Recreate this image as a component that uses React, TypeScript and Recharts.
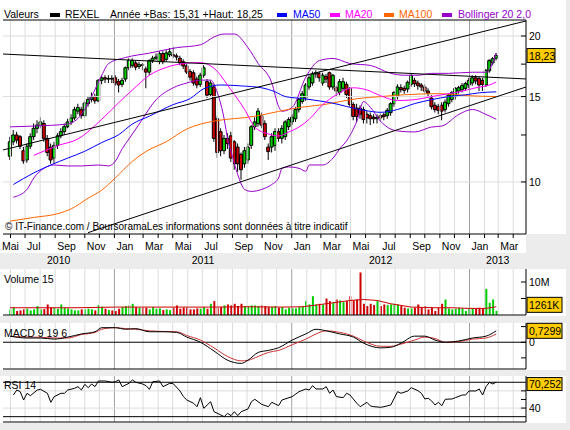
import React from 'react'
import { ComposedChart, Bar, Line, XAxis, YAxis, ReferenceLine, Cell } from 'recharts'

const FONT = '"Liberation Sans", Arial, Helvetica, sans-serif'
const GREEN = '#00cc00'
const RED = '#cc0000'
const GRID = '#dcdcdc'
const YEAR_GRID = '#a0a0a0'
const PURPLE = '#9900cc'

// weekly candles, the first week starts on Monday 31 May 2010
const FIRST_WEEK = Date.UTC(2010, 4, 31)
const WEEK_MS = 7 * 24 * 3600 * 1000
const X_DOMAIN: [number, number] = [-2.06, 151.76]

const opens = [
  11.3, 12.1, 12.5, 12.4, 11.6, 11.1, 11.85, 12.4, 12.9, 13.1,
  13.2, 12.3, 11.8, 11.2, 11.9, 12.45, 12.7, 13.0, 13.3, 13.55,
  14.0, 14.1, 13.7, 14.5, 14.8, 15.0, 14.7, 16.2, 16.4, 16.3,
  16.35, 16.4, 16.1, 15.9, 16.3, 17.2, 17.4, 17.6, 17.3, 17.45,
  17.1, 16.85, 17.8, 18.0, 17.7, 18.4, 17.9, 18.3, 18.3, 18.2,
  18.0, 17.7, 17.35, 16.9, 16.8, 16.3, 15.9, 16.6, 16.1, 15.15,
  15.7, 13.5, 12.7, 11.6, 12.3, 12.45, 12.1, 11.8, 11.4, 10.9,
  11.1, 11.9, 13.0, 13.2, 13.7, 13.2, 11.8, 11.8, 11.9, 12.7,
  12.3, 12.4, 13.0, 13.3, 13.5, 14.1, 14.65, 14.9, 15.7, 16.0,
  16.7, 16.75, 16.0, 16.5, 16.8, 15.7, 15.65, 15.3, 15.6, 15.9,
  15.6, 14.45, 14.2, 14.2, 14.1, 13.8, 13.7, 13.6, 13.5, 13.7,
  13.75, 13.7, 13.9, 14.5, 15.0, 15.65, 15.6, 15.55, 15.9, 16.2,
  16.0, 15.85, 15.7, 15.4, 14.9, 14.4, 14.3, 14.4, 14.1, 14.5,
  14.8, 15.0, 15.4, 15.5, 15.6, 15.85, 16.0, 16.4, 16.35, 16.2,
  15.85, 16.95, 17.6, 18.0,
]
const highs = [
  12.4, 12.8, 12.7, 12.5, 11.8, 12.0, 12.6, 13.2, 13.4, 13.6,
  13.4, 12.5, 12.0, 12.1, 12.6, 12.9, 13.2, 13.5, 13.8, 14.3,
  14.5, 14.3, 14.7, 15.0, 15.3, 15.2, 16.3, 16.6, 16.6, 16.6,
  16.6, 16.6, 16.3, 16.4, 17.3, 18.0, 18.0, 17.8, 17.7, 17.6,
  17.3, 17.9, 18.2, 18.4, 18.6, 18.6, 18.7, 18.9, 19.0, 18.4,
  18.2, 17.9, 17.5, 17.1, 17.0, 16.5, 16.8, 17.4, 16.3, 16.2,
  15.9, 13.7, 12.9, 12.5, 12.6, 12.7, 12.2, 12.0, 11.5, 11.8,
  12.0, 13.1, 13.6, 14.2, 13.9, 13.4, 12.0, 12.6, 12.9, 12.9,
  13.1, 13.4, 13.6, 13.8, 14.3, 14.9, 15.4, 16.0, 16.6, 16.9,
  17.0, 16.9, 16.8, 16.7, 16.9, 16.7, 15.8, 16.3, 16.4, 16.1,
  15.7, 14.6, 14.5, 14.4, 14.3, 14.0, 13.9, 13.8, 13.8, 13.9,
  13.9, 14.2, 14.6, 15.4, 15.9, 15.9, 15.8, 16.2, 16.7, 16.4,
  16.2, 16.0, 15.9, 15.6, 15.1, 14.6, 14.5, 14.6, 14.8, 15.2,
  15.4, 15.7, 15.8, 16.0, 16.1, 16.4, 16.6, 16.6, 16.5, 16.4,
  17.1, 17.9, 18.1, 18.45,
]
const lows = [
  11.1, 11.9, 12.0, 11.7, 10.9, 10.95, 11.7, 12.2, 12.6, 12.9,
  12.1, 11.3, 10.9, 10.9, 11.7, 12.3, 12.5, 12.9, 13.1, 13.4,
  13.8, 13.5, 13.6, 14.3, 14.6, 14.5, 14.6, 15.9, 16.0, 16.0,
  16.0, 15.8, 15.3, 15.7, 16.1, 17.0, 17.2, 17.0, 17.1, 17.0,
  15.6, 16.6, 17.6, 17.8, 17.5, 17.5, 17.7, 18.1, 18.0, 17.8,
  17.4, 17.1, 16.7, 16.2, 15.8, 15.6, 15.7, 16.4, 14.9, 15.0,
  12.1, 11.2, 11.3, 11.4, 11.7, 11.0, 10.6, 10.5, 10.1, 10.7,
  10.9, 11.7, 12.8, 13.0, 12.9, 12.2, 11.1, 11.5, 11.6, 12.1,
  12.0, 12.2, 12.8, 13.1, 13.3, 13.9, 14.5, 14.7, 15.5, 15.8,
  16.4, 16.1, 15.8, 16.0, 15.5, 15.5, 15.0, 15.1, 15.4, 14.9,
  14.3, 13.4, 13.3, 13.5, 13.2, 13.2, 13.1, 13.2, 13.2, 13.3,
  13.4, 13.5, 13.7, 14.3, 14.8, 15.3, 15.2, 15.3, 15.7, 15.7,
  15.5, 15.4, 15.2, 15.0, 14.1, 13.9, 13.8, 13.4, 13.9, 14.3,
  14.6, 14.8, 15.2, 15.3, 15.4, 15.6, 15.8, 15.9, 15.4, 15.4,
  15.7, 16.8, 17.4, 17.8,
]
const closes = [
  12.1, 12.5, 12.2, 11.85, 11.05, 11.85, 12.4, 12.9, 13.1, 13.3,
  12.3, 11.5, 11.1, 11.9, 12.45, 12.7, 13.0, 13.3, 13.55, 14.1,
  14.25, 13.7, 14.55, 14.8, 15.0, 14.7, 16.2, 16.4, 16.3, 16.35,
  16.3, 16.0, 15.85, 16.2, 17.2, 17.8, 17.8, 17.25, 17.45, 17.4,
  16.85, 17.8, 18.0, 18.1, 18.4, 17.7, 18.45, 18.55, 18.2, 18.1,
  17.6, 17.35, 16.85, 16.45, 16.0, 15.85, 16.6, 17.2, 15.1, 16.0,
  12.3, 11.5, 11.6, 12.3, 12.0, 11.2, 10.9, 10.9, 10.6, 11.6,
  11.8, 13.0, 13.3, 14.0, 13.1, 12.4, 11.55, 12.4, 12.7, 12.3,
  12.9, 13.3, 13.45, 13.6, 14.1, 14.8, 15.2, 15.85, 16.4, 16.7,
  16.8, 16.4, 16.6, 16.3, 15.7, 16.6, 15.4, 16.1, 16.1, 15.15,
  14.45, 13.65, 13.65, 13.8, 13.45, 13.55, 13.5, 13.5, 13.6, 13.55,
  13.65, 14.05, 14.5, 15.3, 15.7, 15.5, 15.45, 16.05, 16.6, 15.95,
  15.8, 15.7, 15.4, 15.25, 14.3, 14.1, 14.05, 14.0, 14.6, 15.1,
  15.3, 15.6, 15.65, 15.8, 15.95, 16.2, 16.4, 16.15, 15.85, 15.9,
  17.0, 17.8, 17.95, 18.23,
]
// millions of shares
const volumes = [
  1.7, 2.2, 1.2, 1.4, 1.7, 1.9, 1.4, 1.7, 2.7, 1.7,
  1.8, 3.2, 2.2, 2.2, 1.9, 3.2, 2.2, 2.0, 1.7, 1.4,
  1.4, 1.7, 1.7, 1.9, 1.7, 1.4, 3.0, 2.5, 1.9, 1.5,
  1.4, 1.2, 1.9, 2.4, 2.7, 2.9, 3.4, 2.4, 2.2, 2.2,
  2.2, 1.7, 2.4, 1.9, 2.0, 1.5, 1.7, 1.5, 2.2, 2.9,
  1.9, 2.2, 2.2, 1.7, 1.7, 2.0, 1.9, 2.4, 1.9, 3.4,
  4.2, 2.2, 2.4, 2.9, 3.2, 2.9, 3.4, 2.7, 3.4, 2.7,
  2.5, 2.9, 2.9, 2.7, 2.9, 2.7, 2.4, 2.4, 2.7, 2.2,
  2.4, 1.7, 2.2, 2.0, 2.0, 2.4, 2.7, 4.2, 3.2, 5.7,
  3.2, 3.4, 3.2, 5.0, 4.2, 3.7, 4.7, 4.4, 3.9, 4.2,
  5.7, 4.4, 4.7, 12.9, 3.4, 2.7, 3.4, 3.0, 4.2, 2.7,
  3.2, 3.0, 3.2, 3.4, 3.2, 2.7, 2.2, 2.0, 2.0, 2.2,
  3.2, 2.2, 2.7, 1.7, 2.2, 1.2, 2.2, 3.4, 4.7, 2.0,
  1.7, 1.9, 2.2, 2.0, 1.2, 1.9, 2.0, 1.9, 2.2, 1.9,
  7.9, 3.7, 4.7, 1.26,
]

// indicator readings (week index -> value)
const ma20Weeks = [7, 14, 20, 27, 32, 36, 41, 46, 51, 56, 60, 65, 69, 72, 76, 79, 82, 85, 88, 92, 96, 101, 105, 109, 114, 119, 124, 129, 132, 137, 141, 143]
const ma20 = [11.35, 11.88, 12.27, 13.47, 14.58, 15.48, 16.6, 17.23, 17.55, 17.63, 17.16, 15.48, 14.11, 12.98, 12.56, 12.44, 12.68, 12.98, 13.47, 14.44, 15.13, 15.64, 15.48, 15.06, 14.72, 14.78, 15.0, 15.21, 15.34, 15.64, 15.85, 16.07]
const ma50Weeks = [1, 7, 12, 17, 22, 27, 32, 36, 41, 48, 53, 57, 62, 68, 74, 78, 81, 86, 94, 104, 109, 114, 119, 124, 129, 134, 138, 143]
const ma50 = [9.88, 10.44, 10.84, 11.2, 11.57, 12.06, 12.52, 13.17, 13.67, 14.44, 14.86, 15.57, 15.85, 15.78, 15.64, 15.34, 15.0, 14.86, 14.58, 14.06, 13.92, 14.11, 14.51, 14.78, 15.0, 15.13, 15.27, 15.34]
const ma100Weeks = [0, 7, 14, 18, 23, 27, 31, 36, 40, 46, 52, 56, 60, 72, 79, 85, 92, 97, 102, 109, 116, 126, 135, 143]
const ma100 = [8.3, 8.45, 8.6, 8.8, 9.26, 9.62, 10.2, 11.03, 11.56, 12.11, 12.86, 13.16, 13.35, 13.66, 13.98, 14.24, 14.43, 14.64, 14.85, 15.0, 15.13, 15.21, 15.06, 15.0]
const bollUpperWeeks = [0, 7, 17, 21, 24, 27, 29, 34, 41, 49, 56, 60, 63, 66, 70, 73, 77, 79, 80, 83, 87, 91, 95, 100, 106, 112, 116, 120, 124, 129, 136, 140, 143]
const bollUpper = [12.99, 13.04, 13.17, 13.78, 15.0, 16.6, 17.55, 18.06, 18.44, 18.92, 19.18, 19.91, 20.19, 20.19, 18.92, 17.55, 16.0, 14.31, 13.99, 14.25, 16.45, 17.8, 17.98, 17.55, 17.39, 16.75, 16.6, 16.6, 16.75, 16.75, 16.84, 16.84, 18.44]
const bollLowerWeeks = [1, 5, 7, 10, 13, 17, 21, 26, 29, 31, 33, 35, 38, 43, 48, 52, 56, 59, 61, 63, 64, 65, 67, 69, 71, 74, 77, 79, 80, 82, 85, 87, 88, 92, 95, 97, 99, 102, 104, 106, 109, 112, 114, 119, 124, 127, 132, 136, 140, 143]
const bollLower = [9.3, 9.65, 10.19, 10.67, 10.84, 10.79, 10.79, 10.84, 10.79, 11.04, 11.71, 12.27, 13.17, 14.78, 15.64, 16.0, 16.22, 16.22, 15.27, 13.47, 12.27, 11.57, 10.35, 9.65, 9.56, 9.65, 9.88, 10.19, 10.67, 10.74, 10.67, 10.52, 10.84, 10.84, 11.2, 11.71, 12.16, 13.34, 14.65, 14.25, 13.34, 12.85, 12.74, 12.68, 12.98, 13.04, 13.78, 14.11, 13.78, 13.47]
const volMaWeeks = [0, 20, 31, 45, 60, 70, 80, 86, 90, 95, 100, 104, 108, 112, 118, 125, 130, 135, 140, 143]
const volMa = [2.2, 2.2, 2.4, 2.4, 2.4, 2.5, 2.4, 2.5, 3.0, 3.7, 4.4, 4.7, 4.4, 3.4, 2.4, 2.2, 2.2, 2.0, 2.0, 2.5]
const macdWeeks = [0, 5, 9, 13, 17, 21, 25, 27, 31, 34, 37, 41, 45, 49, 52, 56, 60, 64, 68, 70, 73, 76, 79, 83, 87, 90, 93, 97, 101, 104, 109, 112, 115, 119, 122, 125, 128, 132, 136, 140, 143]
const macd = [0.39, 0.27, 0.27, 0.2, 0.33, 0.53, 0.67, 0.93, 0.93, 0.83, 0.87, 0.67, 0.67, 0.63, 0.33, 0, -0.56, -1.15, -1.35, -1.15, -0.65, -0.52, -0.35, 0.14, 0.53, 0.83, 0.73, 0.53, 0.33, -0.06, -0.36, -0.32, -0.06, 0.39, 0.39, 0.14, 0, 0.08, 0.27, 0.39, 0.73]
const macdSignal = [0.37, 0.33, 0.32, 0.27, 0.27, 0.49, 0.63, 0.83, 0.93, 0.87, 0.83, 0.73, 0.69, 0.67, 0.43, 0.14, -0.36, -0.91, -1.19, -1.15, -0.91, -0.65, -0.52, -0.16, 0.2, 0.53, 0.73, 0.63, 0.39, 0.08, -0.26, -0.26, -0.12, 0.14, 0.33, 0.24, 0, 0.04, 0.2, 0.27, 0.53]
const rsiWeeks = [1, 2, 3, 4, 5, 6, 8, 9, 11, 12, 13, 15, 16, 17, 19, 20, 21, 22, 23, 24, 25, 26, 28, 30, 31, 32, 33, 35, 36, 37, 39, 40, 41, 42, 44, 45, 47, 48, 50, 51, 52, 54, 55, 56, 57, 59, 60, 62, 63, 64, 65, 66, 67, 68, 70, 71, 72, 74, 76, 77, 79, 80, 83, 85, 87, 88, 89, 90, 92, 93, 94, 95, 96, 98, 99, 100, 102, 103, 105, 106, 107, 109, 110, 112, 113, 114, 115, 117, 118, 120, 121, 122, 123, 124, 125, 126, 127, 128, 130, 131, 133, 134, 135, 137, 138, 139, 140, 141, 142, 143]
const rsi = [55.2, 61.0, 59.1, 49.4, 57.2, 54.4, 61.0, 61.8, 57.2, 46.7, 53.3, 57.2, 57.2, 61.0, 63.0, 64.9, 61.0, 67.6, 63.7, 68.0, 64.9, 71.5, 71.5, 70.0, 70.7, 72.7, 64.9, 68.8, 72.7, 70.0, 68.0, 66.1, 61.8, 70.7, 71.5, 64.9, 68.8, 68.4, 59.9, 53.3, 49.4, 45.6, 41.6, 52.1, 39.7, 47.4, 35.8, 32.0, 30.0, 33.9, 31.2, 35.8, 31.2, 35.8, 39.0, 47.4, 50.2, 44.4, 41.6, 46.7, 42.8, 49.4, 53.3, 59.1, 62.2, 61.0, 66.1, 62.2, 62.2, 64.9, 57.2, 61.0, 53.3, 52.1, 57.2, 55.2, 45.6, 41.6, 46.7, 42.4, 41.6, 40.9, 41.6, 43.6, 51.4, 59.1, 57.2, 59.9, 63.7, 60.2, 57.2, 50.6, 51.4, 48.3, 43.6, 46.7, 42.8, 50.2, 50.6, 52.1, 55.2, 55.2, 59.9, 59.9, 62.2, 55.2, 64.9, 70.0, 68.0, 70.25]

// trend lines drawn on the price panel: [week, price] -> [week, price]
const trendLines = [
  [[-2.06, 18.36], [151.76, 16.31]],
  [[-2.06, 11.64], [151.76, 21.48]],
  [[22.94, 7.86], [151.76, 15.7]],
]

const monthNames = ['Jan', '', 'Mar', '', 'Mai', '', 'Jul', '', 'Sep', '', 'Nov', '']
const years = [2010, 2011, 2012, 2013]

const at = (weeks: number[], values: number[], i: number) => {
  const k = weeks.indexOf(i)
  return k < 0 ? undefined : values[k]
}

const rows = closes.map((close, i) => ({
  week: i,
  wick: [lows[i], highs[i]],
  body: [Math.min(opens[i], close), Math.max(opens[i], close)],
  up: close >= opens[i],
  volume: volumes[i],
  ma20: at(ma20Weeks, ma20, i),
  ma50: at(ma50Weeks, ma50, i),
  ma100: at(ma100Weeks, ma100, i),
  bollUp: at(bollUpperWeeks, bollUpper, i),
  bollLow: at(bollLowerWeeks, bollLower, i),
  volMa: at(volMaWeeks, volMa, i),
  macd: at(macdWeeks, macd, i),
  signal: at(macdWeeks, macdSignal, i),
  rsi: at(rsiWeeks, rsi, i),
}))

const weekOf = (y: number, m: number) => (Date.UTC(y, m, 1) - FIRST_WEEK) / WEEK_MS

const months = years
  .flatMap((y) => monthNames.map((name, m) => ({ week: weekOf(y, m), name, jan: m === 0 })))
  .filter((mo) => mo.week > X_DOMAIN[0] - 4.5 && mo.week < X_DOMAIN[1])
const monthTicks = months.map((mo) => Math.max(mo.week, X_DOMAIN[0]))
const monthByTick = new Map(months.map((mo, k) => [monthTicks[k], mo]))

const yearTicks = years.map((y) => {
  const lo = Math.max(weekOf(y, 0), X_DOMAIN[0])
  const hi = Math.min(weekOf(y + 1, 0), X_DOMAIN[1])
  return (lo + hi) / 2
})
const yearByTick = new Map(yearTicks.map((t, k) => [t, years[k]]))

const gridLines = () =>
  months
    .filter((mo) => mo.week >= X_DOMAIN[0])
    .map((mo) => (
      <ReferenceLine key={mo.week} x={mo.week} stroke={mo.jan ? YEAR_GRID : GRID} strokeWidth={1} />
    ))

function MonthTick(props: any) {
  const { x, y, payload } = props
  const mo = monthByTick.get(payload.value)
  if (!mo) return null
  const clipped = mo.week < X_DOMAIN[0]
  return (
    <g>
      {!clipped && <line x1={x} x2={x} y1={y} y2={y + 4} stroke="#000" />}
      {mo.name && (
        <text x={clipped ? 2 : x + 2} y={y + 16} fontSize={10.5} fontFamily={FONT} fill="#000">
          {mo.name}
        </text>
      )}
    </g>
  )
}

function YearTick(props: any) {
  const { x, y, payload } = props
  return (
    <text x={x} y={y + 16} textAnchor="middle" fontSize={10.5} fontFamily={FONT} fill="#000">
      {yearByTick.get(payload.value)}
    </text>
  )
}

function ValueTick(props: any) {
  const { x, y, payload, shown = [], format = String, boxValue, boxText, boxWidth = 35, boxShift = 0, boxHeight = 15 } = props
  const v = payload.value
  if (v === boxValue) {
    const cy = y + boxShift
    return (
      <g>
        <rect x={x + 1} y={cy - boxHeight / 2} width={boxWidth} height={boxHeight} fill="#ffcc00" stroke="#000" />
        <text x={x + 3} y={cy + 4} fontSize={10.5} fontFamily={FONT} fill="#000">
          {boxText}
        </text>
      </g>
    )
  }
  return (
    <g>
      <line x1={x - 5} x2={x} y1={y} y2={y} stroke="#000" />
      {shown.includes(v) && (
        <text x={x + 3} y={y + 4} fontSize={10.5} fontFamily={FONT} fill="#000">
          {format(v)}
        </text>
      )}
    </g>
  )
}

const hiddenX = (id?: string) => (
  <XAxis xAxisId={id ?? 0} dataKey="week" type="number" domain={X_DOMAIN} allowDataOverflow height={0} hide />
)

function PriceChart() {
  return (
    <ComposedChart width={566} height={265} data={rows} margin={{ top: 20, right: 0, bottom: 0, left: 3 }}>
      <XAxis
        dataKey="week"
        type="number"
        domain={X_DOMAIN}
        allowDataOverflow
        ticks={monthTicks}
        interval={0}
        tickLine={false}
        tickSize={0}
        tickMargin={0}
        height={14}
        axisLine={{ stroke: '#000' }}
        tick={<MonthTick />}
      />
      {hiddenX('body')}
      <XAxis
        xAxisId="year"
        dataKey="week"
        type="number"
        domain={X_DOMAIN}
        allowDataOverflow
        ticks={yearTicks}
        interval={0}
        axisLine={false}
        tickLine={false}
        tickSize={0}
        tickMargin={0}
        height={17}
        tick={<YearTick />}
      />
      <YAxis
        orientation="right"
        width={40}
        scale="log"
        domain={[7.81, 21.58]}
        allowDataOverflow
        ticks={[10, 12.5, 15, 17.5, 20, 18.23]}
        interval={0}
        tickLine={false}
        tickSize={0}
        tickMargin={0}
        axisLine={{ stroke: '#000' }}
        tick={<ValueTick shown={[10, 15, 20]} boxValue={18.23} boxText="18,23" boxWidth={28} boxHeight={14} />}
      />
      {gridLines()}
      {[10, 15, 20].map((v) => (
        <ReferenceLine key={v} y={v} stroke={GRID} />
      ))}
      <ReferenceLine y={21.58} stroke="#000" />
      <Line dataKey="bollUp" type="monotone" stroke={PURPLE} dot={false} connectNulls isAnimationActive={false} />
      <Line dataKey="bollLow" type="monotone" stroke={PURPLE} dot={false} connectNulls isAnimationActive={false} />
      <Line dataKey="ma100" type="monotone" stroke="#ff6600" dot={false} connectNulls isAnimationActive={false} />
      <Line dataKey="ma50" type="monotone" stroke="#0000ff" dot={false} connectNulls isAnimationActive={false} />
      <Line dataKey="ma20" type="monotone" stroke="#ff00ff" dot={false} connectNulls isAnimationActive={false} />
      <Bar dataKey="wick" barSize={1} fill="#000" isAnimationActive={false} />
      <Bar xAxisId="body" dataKey="body" barSize={3} stroke="#000" strokeWidth={1} isAnimationActive={false}>
        {rows.map((r) => (
          <Cell key={r.week} fill={r.up ? GREEN : RED} />
        ))}
      </Bar>
      {trendLines.map(([a, b], k) => (
        <ReferenceLine
          key={k}
          segment={[
            { x: a[0], y: a[1] },
            { x: b[0], y: b[1] },
          ]}
          stroke="#000"
          strokeWidth={1}
        />
      ))}
    </ComposedChart>
  )
}

function VolumeChart() {
  return (
    <ComposedChart width={566} height={52} data={rows} margin={{ top: 3, right: 0, bottom: 3, left: 3 }}>
      {hiddenX()}
      <YAxis
        orientation="right"
        width={40}
        domain={[0, 13.94]}
        allowDataOverflow
        ticks={[5, 10, 1.26]}
        interval={0}
        tickLine={false}
        tickSize={0}
        tickMargin={0}
        axisLine={{ stroke: '#000' }}
        tick={<ValueTick shown={[10]} format={(v: number) => `${v}M`} boxValue={1.26} boxText="1261K" boxShift={-6} />}
      />
      {gridLines()}
      <Bar dataKey="volume" barSize={2} isAnimationActive={false}>
        {rows.map((r) => (
          <Cell key={r.week} fill={r.up ? GREEN : RED} />
        ))}
      </Bar>
      <Line dataKey="volMa" type="linear" stroke={RED} dot={false} connectNulls isAnimationActive={false} />
      <ReferenceLine y={0} stroke="#000" />
    </ComposedChart>
  )
}

function MacdChart() {
  return (
    <ComposedChart width={566} height={52} data={rows} margin={{ top: 3, right: 0, bottom: 3, left: 3 }}>
      {hiddenX()}
      <YAxis
        orientation="right"
        width={40}
        domain={[-1.71, 1.23]}
        allowDataOverflow
        ticks={[-1, 0, 1, 0.7299]}
        interval={0}
        tickLine={false}
        tickSize={0}
        tickMargin={0}
        axisLine={{ stroke: '#000' }}
        tick={<ValueTick shown={[0]} boxValue={0.7299} boxText="0,7299" />}
      />
      {gridLines()}
      <ReferenceLine y={0} stroke="#000" />
      <ReferenceLine y={-1.71} stroke="#000" />
      <Line dataKey="signal" type="monotone" stroke="#cc3333" dot={false} connectNulls isAnimationActive={false} />
      <Line dataKey="macd" type="monotone" stroke="#000" dot={false} connectNulls isAnimationActive={false} />
    </ComposedChart>
  )
}

function RsiChart() {
  return (
    <ComposedChart width={566} height={52} data={rows} margin={{ top: 3, right: 0, bottom: 3, left: 3 }}>
      {hiddenX()}
      <YAxis
        orientation="right"
        width={40}
        domain={[23.8, 77.3]}
        allowDataOverflow
        ticks={[40, 50, 60, 70.25]}
        interval={0}
        tickLine={false}
        tickSize={0}
        tickMargin={0}
        axisLine={{ stroke: '#000' }}
        tick={<ValueTick shown={[40]} boxValue={70.25} boxText="70,252" boxShift={2} boxHeight={13} />}
      />
      {gridLines()}
      <ReferenceLine y={40} stroke={GRID} />
      <ReferenceLine y={60} stroke={GRID} />
      <ReferenceLine y={70} stroke="#000" />
      <ReferenceLine y={30} stroke="#000" />
      <ReferenceLine y={23.8} stroke="#000" />
      <Line dataKey="rsi" type="linear" stroke="#000" dot={false} connectNulls isAnimationActive={false} />
    </ComposedChart>
  )
}

const text = (left: number, top: number, label: string, color = '#000', size = 10.5) => (
  <span style={{ position: 'absolute', left, top, color, fontSize: size, lineHeight: '12px', whiteSpace: 'nowrap' }}>{label}</span>
)
const swatch = (left: number, color: string) => (
  <span style={{ position: 'absolute', left, top: 13, width: 10, height: 4, background: color }} />
)

export default function App() {
  return (
    <div style={{ position: 'absolute', left: 0, top: 0, width: 570, height: 430, background: '#ececec', fontFamily: FONT, overflow: 'hidden' }}>
      <div style={{ position: 'absolute', left: 0, top: 0, width: 566, height: 234, background: '#fff' }} />
      <div style={{ position: 'absolute', left: 0, top: 234, width: 526, height: 19, background: '#fff' }} />
      <div style={{ position: 'absolute', left: 0, top: 269, width: 566, height: 47, background: '#fff' }} />
      <div style={{ position: 'absolute', left: 0, top: 323, width: 566, height: 47, background: '#fff' }} />
      <div style={{ position: 'absolute', left: 0, top: 376, width: 566, height: 47, background: '#fff' }} />

      <div style={{ position: 'absolute', left: 0, top: 0 }}>
        <PriceChart />
      </div>
      <div style={{ position: 'absolute', left: 0, top: 266 }}>
        <VolumeChart />
      </div>
      <div style={{ position: 'absolute', left: 0, top: 320 }}>
        <MacdChart />
      </div>
      <div style={{ position: 'absolute', left: 0, top: 373 }}>
        <RsiChart />
      </div>

      {text(4, 8, 'Valeurs')}
      {swatch(50, '#000')}
      {text(65, 8, 'REXEL')}
      {text(110, 8, 'Année +Bas: 15,31 +Haut: 18,25')}
      {swatch(277, '#0000ff')}
      {text(293, 8, 'MA50', '#0000ff')}
      {swatch(330, '#ff00ff')}
      {text(345, 8, 'MA20', '#ff00ff')}
      {swatch(384, '#ff6600')}
      {text(399, 8, 'MA100', '#ff6600')}
      {swatch(442, PURPLE)}
      {text(458, 8, 'Bollinger 20 2,0', PURPLE)}

      {text(5, 221, '© IT-Finance.com / BoursoramaLes informations sont données à titre indicatif', '#000', 10)}
      {text(4, 273, 'Volume 15')}
      {text(4, 327, 'MACD 9 19 6')}
      {text(4, 379, 'RSI 14')}
    </div>
  )
}
